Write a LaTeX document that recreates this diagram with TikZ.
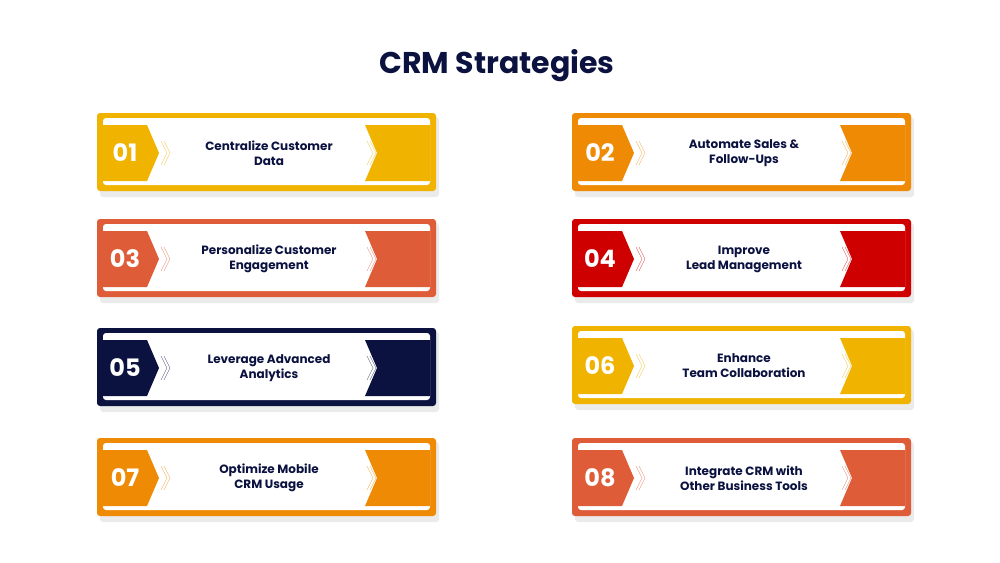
\documentclass[tikz,border=0pt]{standalone}
\usepackage{fontspec}
\setmainfont{Poppins}
\usetikzlibrary{positioning}
\definecolor{crmyellow}{HTML}{EFB300}
\definecolor{crmorange}{HTML}{EF8A05}
\definecolor{crmcoral}{HTML}{DF5C38}
\definecolor{crmred}{HTML}{CF0000}
\definecolor{crmnavy}{HTML}{0B1240}
\tikzset{
  cardtext/.style={font=\bfseries\fontsize{12}{15}\selectfont, text=crmnavy, align=center},
  cardnum/.style={font=\bfseries\fontsize{24}{24}\selectfont, text=white},
}
% card: x, y (top), colour, number, text
\newcommand{\crmcard}[5]{%
  \begin{scope}[shift={(#1,#2)}]
    \fill[black!8, rounded corners=3pt] (3,4) rectangle (342,84);
    \fill[#3, rounded corners=3pt] (0,0) rectangle (339,78);
    \fill[white, rounded corners=3pt] (6,5) rectangle (333,72);
    \fill[#3] (0,12) -- (50,12) -- (62,40) -- (50,68) -- (0,68) -- cycle;
    \fill[#3] (268,12) -- (333,12) -- (333,68) -- (268,68) -- (280,40) -- cycle;
    \draw[#3!70, thin] (64,28) -- (70,40) -- (64,52) (67,28) -- (73,40) -- (67,52)
      (270,28) -- (276,40) -- (270,52) (273,28) -- (279,40) -- (273,52);
    \node[cardnum] (n#4) at (28,40) {#4};
    \node[cardtext] (t#4) at (172,40) {#5};
  \end{scope}}

\begin{document}
\begin{tikzpicture}[x=1pt,y=-1pt]
  \useasboundingbox[fill=white] (0,0) rectangle (1000,562);
  \node[font=\bfseries\fontsize{30}{30}\selectfont, text=crmnavy] (title) at (497,66) {CRM Strategies};
  \crmcard{97}{113}{crmyellow}{01}{Centralize Customer\\Data}
  \crmcard{572}{113}{crmorange}{02}{Automate Sales \&\\Follow-Ups}
  \crmcard{97}{219}{crmcoral}{03}{Personalize Customer\\Engagement}
  \crmcard{572}{219}{crmred}{04}{Improve\\Lead Management}
  \crmcard{97}{328}{crmnavy}{05}{Leverage Advanced\\Analytics}
  \crmcard{572}{326}{crmyellow}{06}{Enhance\\Team Collaboration}
  \crmcard{97}{438}{crmorange}{07}{Optimize Mobile\\CRM Usage}
  \crmcard{572}{438}{crmcoral}{08}{Integrate CRM with\\Other Business Tools}
\end{tikzpicture}
\end{document}
